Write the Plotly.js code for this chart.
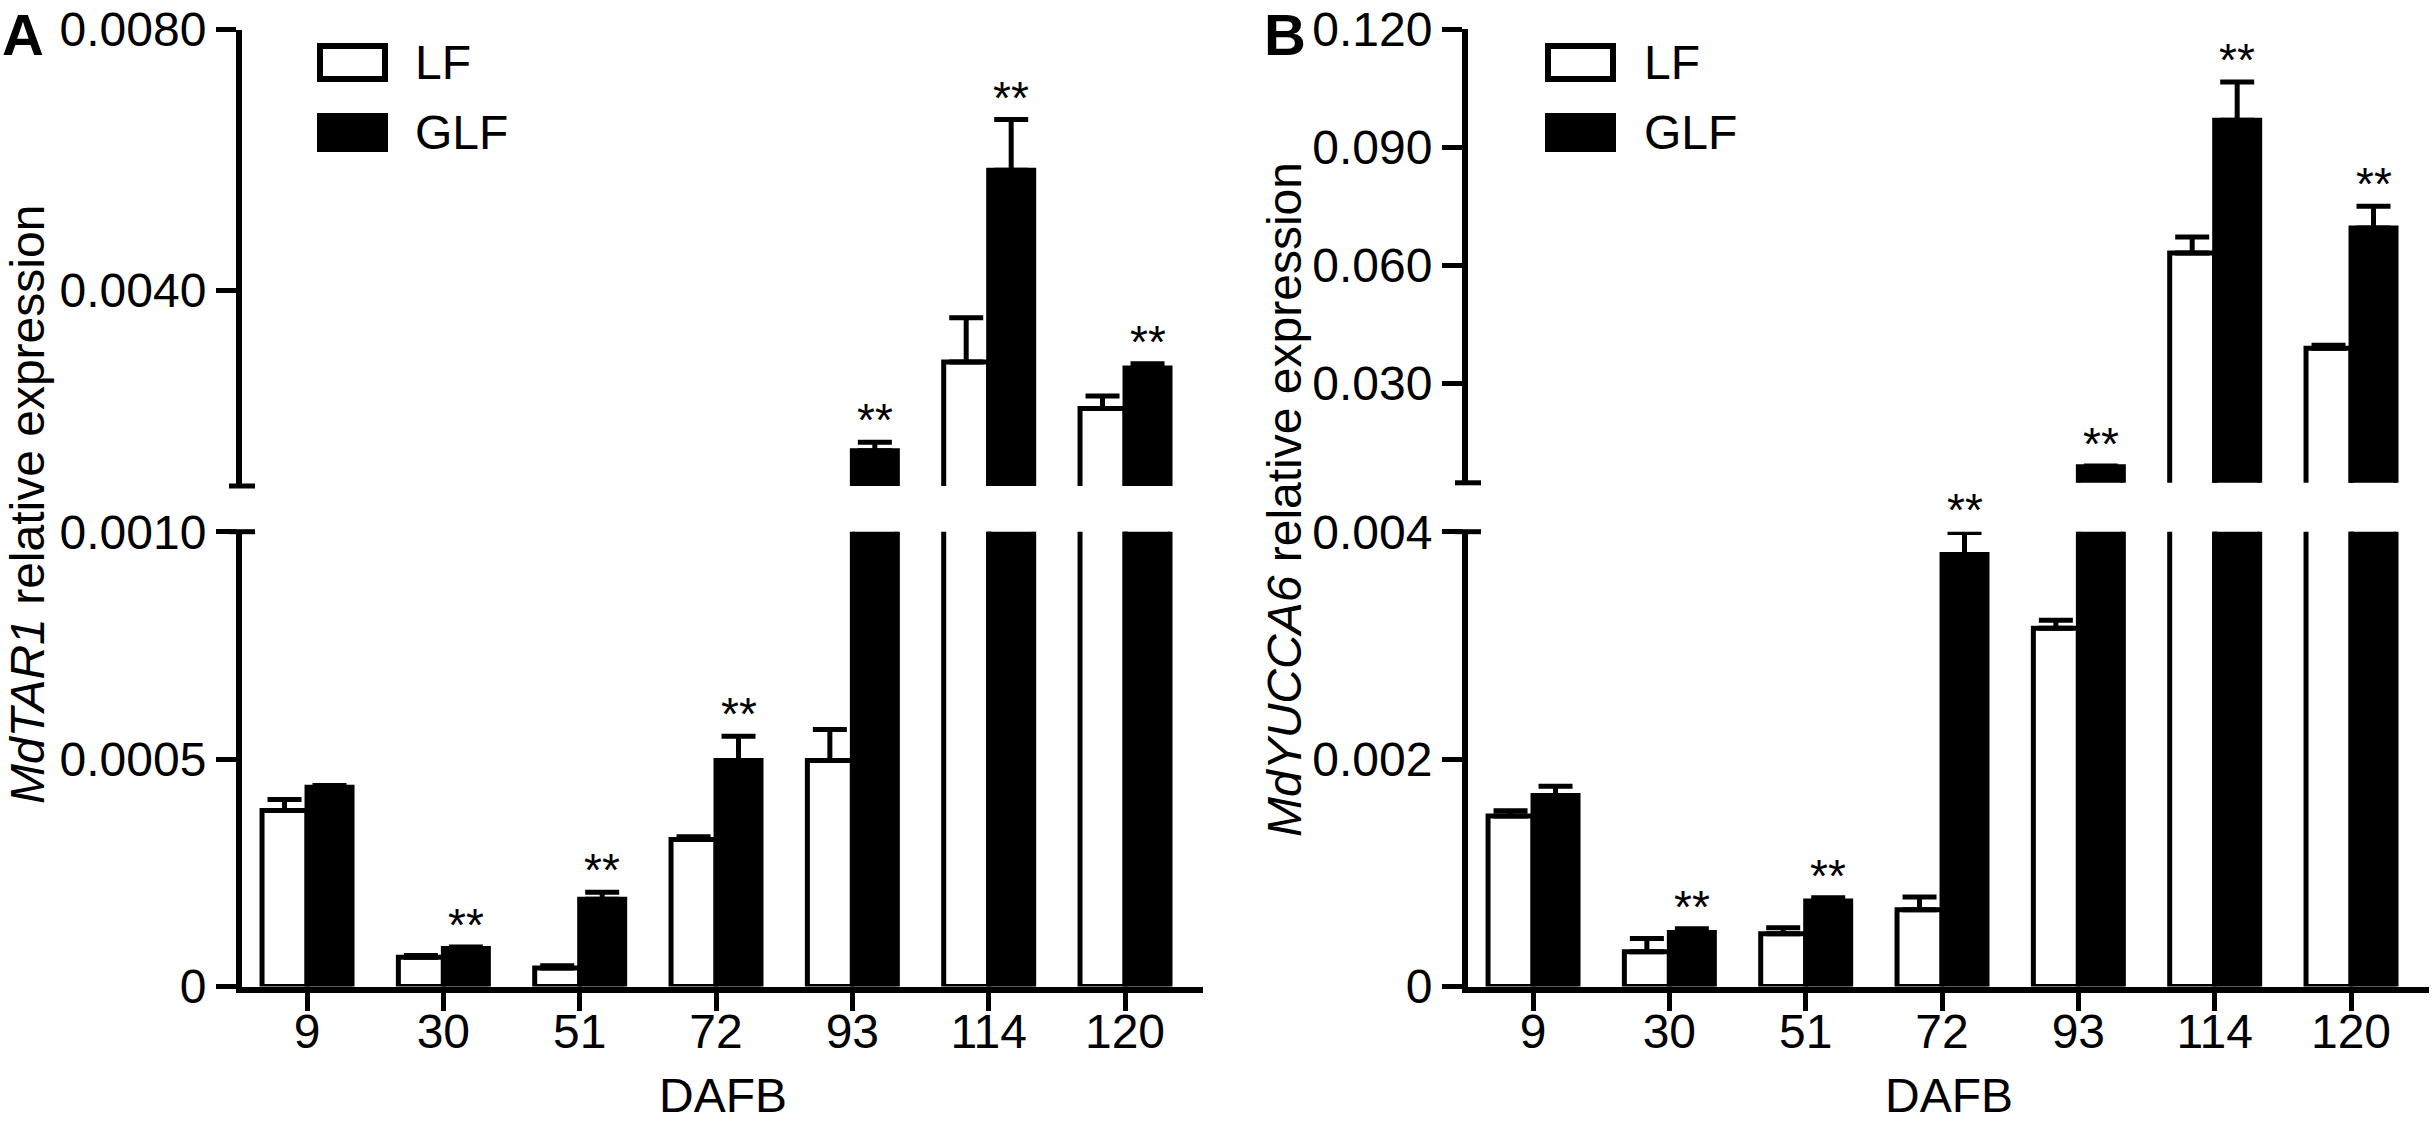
<!DOCTYPE html>
<html>
<head>
<meta charset="utf-8">
<script src="https://cdn.plot.ly/plotly-3.0.1.min.js"></script>
<style>html,body{margin:0;padding:0;background:#fff;}#chart{width:2434px;height:1125px;}</style>
</head>
<body>
<div id="chart"></div>
<script>
// ---------- data ----------
const categories = ['9', '30', '51', '72', '93', '114', '120'];
const seriesNames = ['LF', 'GLF'];
const xTitle = 'DAFB';

// Panel A: MdTAR1
const lfA     = [0.000387, 0.0000644, 0.0000406, 0.000323, 0.000497, 0.00290, 0.00219];
const lfAErr  = [0.000024, 0.000004,  0.000005,  0.000006, 0.000068, 0.00068, 0.00019];
const glfA    = [0.000438, 0.0000838, 0.000192,  0.000497, 0.00154,  0.00584, 0.00281];
const glfAErr = [0.000004, 0.000003,  0.000015,  0.000053, 0.00013,  0.00078, 0.000066];
const sigA    = [false, true, true, true, true, true, true];

// Panel B: MdYUCCA6
const lfB     = [0.00150, 0.000306, 0.000464, 0.000675, 0.00315, 0.0631, 0.0389];
const lfBErr  = [0.000046, 0.000116, 0.000053, 0.000113, 0.000071, 0.0041, 0.0008];
const glfB    = [0.00168, 0.000475, 0.000753, 0.00380, 0.0088, 0.0969, 0.0695];
const glfBErr = [0.000081, 0.000032, 0.000028, 0.000194, 0.0002, 0.0097, 0.0055];
const sigB    = [false, true, true, true, true, true, true];

// tick values / labels
const aLowTicks  = [0, 0.0005, 0.0010];
const aLowText   = ['0', '0.0005', '0.0010'];
const aHighTicks = [0.0040, 0.0080];
const aHighText  = ['0.0040', '0.0080'];
const bLowTicks  = [0, 0.002, 0.004];
const bLowText   = ['0', '0.002', '0.004'];
const bHighTicks = [0.030, 0.060, 0.090, 0.120];
const bHighText  = ['0.030', '0.060', '0.090', '0.120'];

// ---------- layout helpers (pixels -> paper) ----------
const W = 2434, H = 1125;
const px = p => p / W;
const py = p => 1 - p / H;
const FONT = 'Liberation Sans, Arial, Helvetica, sans-serif';
const BARGAP = 0.34;

function barTrace(name, y, err, xa, ya, fill) {
  return {
    type: 'bar', name: name, x: categories, y: y, xaxis: xa, yaxis: ya,
    marker: {color: fill, line: {color: '#000', width: 5}},
    error_y: {type: 'data', symmetric: false, array: err, arrayminus: err.map(() => 0),
              color: '#000', thickness: 5, width: 17},
    showlegend: false, hoverinfo: 'skip'
  };
}

const traces = [
  barTrace('LF',  lfA,  lfAErr,  'x', 'y',  '#ffffff'),
  barTrace('GLF', glfA, glfAErr, 'x', 'y',  '#000000'),
  barTrace('LF',  lfA,  lfAErr,  'x', 'y2', '#ffffff'),
  barTrace('GLF', glfA, glfAErr, 'x', 'y2', '#000000'),
  barTrace('LF',  lfB,  lfBErr,  'x2', 'y3', '#ffffff'),
  barTrace('GLF', glfB, glfBErr, 'x2', 'y3', '#000000'),
  barTrace('LF',  lfB,  lfBErr,  'x2', 'y4', '#ffffff'),
  barTrace('GLF', glfB, glfBErr, 'x2', 'y4', '#000000')
];

function xAxis(domain, anchor) {
  return {
    type: 'category', domain: domain, anchor: anchor, range: [-0.477, 6.572],
    showline: true, linecolor: '#000', linewidth: 6, showgrid: false, zeroline: false,
    ticks: 'outside', ticklen: 18, tickwidth: 5, tickcolor: '#000',
    ticklabelstandoff: -20,
    tickfont: {family: FONT, size: 48, color: '#000'},
    fixedrange: true
  };
}
function yAxis(domain, anchor, range, tv, tt) {
  return {
    domain: domain, anchor: anchor, range: range,
    tickmode: 'array', tickvals: tv, ticktext: tt,
    showline: true, linecolor: '#000', linewidth: 6, showgrid: false, zeroline: false,
    ticks: 'outside', ticklen: 20, tickwidth: 5, tickcolor: '#000',
    tickfont: {family: FONT, size: 48, color: '#000'},
    fixedrange: true
  };
}

const lowDom = [py(986.5), py(531.7)];
const bTopBottomPx = 482.8;

const layout = {
  width: W, height: H,
  margin: {l: 0, r: 0, t: 0, b: 0, pad: 0},
  paper_bgcolor: '#fff', plot_bgcolor: 'rgba(0,0,0,0)',
  showlegend: false,
  barmode: 'group', bargap: BARGAP, bargroupgap: 0,
  font: {family: FONT, color: '#000'},
  xaxis:  xAxis([px(242), px(1203)], 'y'),
  xaxis2: xAxis([px(1468), px(2429)], 'y3'),
  yaxis:  yAxis(lowDom, 'x', [0, 0.0010], aLowTicks, aLowText),
  yaxis2: yAxis([py(486), py(29.5)], 'x', [0.0010, 0.0080], aHighTicks, aHighText),
  yaxis3: yAxis(lowDom, 'x2', [0, 0.004], bLowTicks, bLowText),
  yaxis4: yAxis([py(bTopBottomPx), py(29.3)], 'x2', [0.0047, 0.120], bHighTicks, bHighText),
  shapes: [], annotations: []
};

// axis break caps
[[242, 486], [242, 531.7], [1468, bTopBottomPx], [1468, 531.7]].forEach(([x, y]) => {
  layout.shapes.push({type: 'line', xref: 'paper', yref: 'paper',
    x0: px(x - 13), x1: px(x + 13), y0: py(y), y1: py(y), line: {color: '#000', width: 5}});
});

// legends (drawn boxes + text)
[[317, 413], [1545, 1642]].forEach(([bx, tx]) => {
  const rows = [[62.5, '#ffffff'], [132.5, '#000000']];
  rows.forEach(([cy, fill], i) => {
    layout.shapes.push({type: 'rect', xref: 'paper', yref: 'paper',
      x0: px(bx + 3), x1: px(bx + 68), y0: py(cy - 16.5), y1: py(cy + 16.5),
      fillcolor: fill, line: {color: '#000', width: 6}});
    layout.annotations.push({xref: 'paper', yref: 'paper', x: px(tx), y: py(cy),
      xanchor: 'left', yanchor: 'middle', showarrow: false, text: seriesNames[i],
      font: {family: FONT, size: 48, color: '#000'}});
  });
});

// x titles
[[242, 1203], [1468, 2429]].forEach(([a, b]) => {
  layout.annotations.push({xref: 'paper', yref: 'paper', x: px((a + b) / 2), y: py(1095),
    xanchor: 'center', yanchor: 'middle', showarrow: false, text: xTitle,
    font: {family: FONT, size: 48, color: '#000'}});
});

// panel letters
layout.annotations.push({xref: 'paper', yref: 'paper', x: px(0), y: 1, xanchor: 'left', yanchor: 'top',
  showarrow: false, text: '<b>A</b>', font: {family: FONT, size: 58, color: '#000'}});
layout.annotations.push({xref: 'paper', yref: 'paper', x: px(1262), y: 1, xanchor: 'left', yanchor: 'top',
  showarrow: false, text: '<b>B</b>', font: {family: FONT, size: 58, color: '#000'}});

// y titles
layout.annotations.push({xref: 'paper', yref: 'paper', x: px(27), y: py(505), xanchor: 'center', yanchor: 'middle',
  textangle: -90, showarrow: false, text: '<i>MdTAR1</i> relative expression',
  font: {family: FONT, size: 48, color: '#000'}});
layout.annotations.push({xref: 'paper', yref: 'paper', x: px(1284), y: py(500), xanchor: 'center', yanchor: 'middle',
  textangle: -90, showarrow: false, text: '<i>MdYUCCA6</i> relative expression',
  font: {family: FONT, size: 48, color: '#000'}});

// significance stars above GLF bars
const off = (1 - BARGAP) / 4;
function addStars(vals, errs, sig, xref, yLow, yHigh, split) {
  vals.forEach((v, i) => {
    if (!sig[i]) return;
    const top = v + errs[i];
    layout.annotations.push({xref: xref, yref: top > split ? yHigh : yLow,
      x: i + off, y: top, xanchor: 'center', yanchor: 'bottom', yshift: -6,
      showarrow: false, text: '**', font: {family: FONT, size: 46, color: '#000'}});
  });
}
addStars(glfA, glfAErr, sigA, 'x', 'y', 'y2', 0.0010);
addStars(glfB, glfBErr, sigB, 'x2', 'y3', 'y4', 0.004);

Plotly.newPlot('chart', traces, layout, {staticPlot: true, displayModeBar: false});
</script>
</body>
</html>
